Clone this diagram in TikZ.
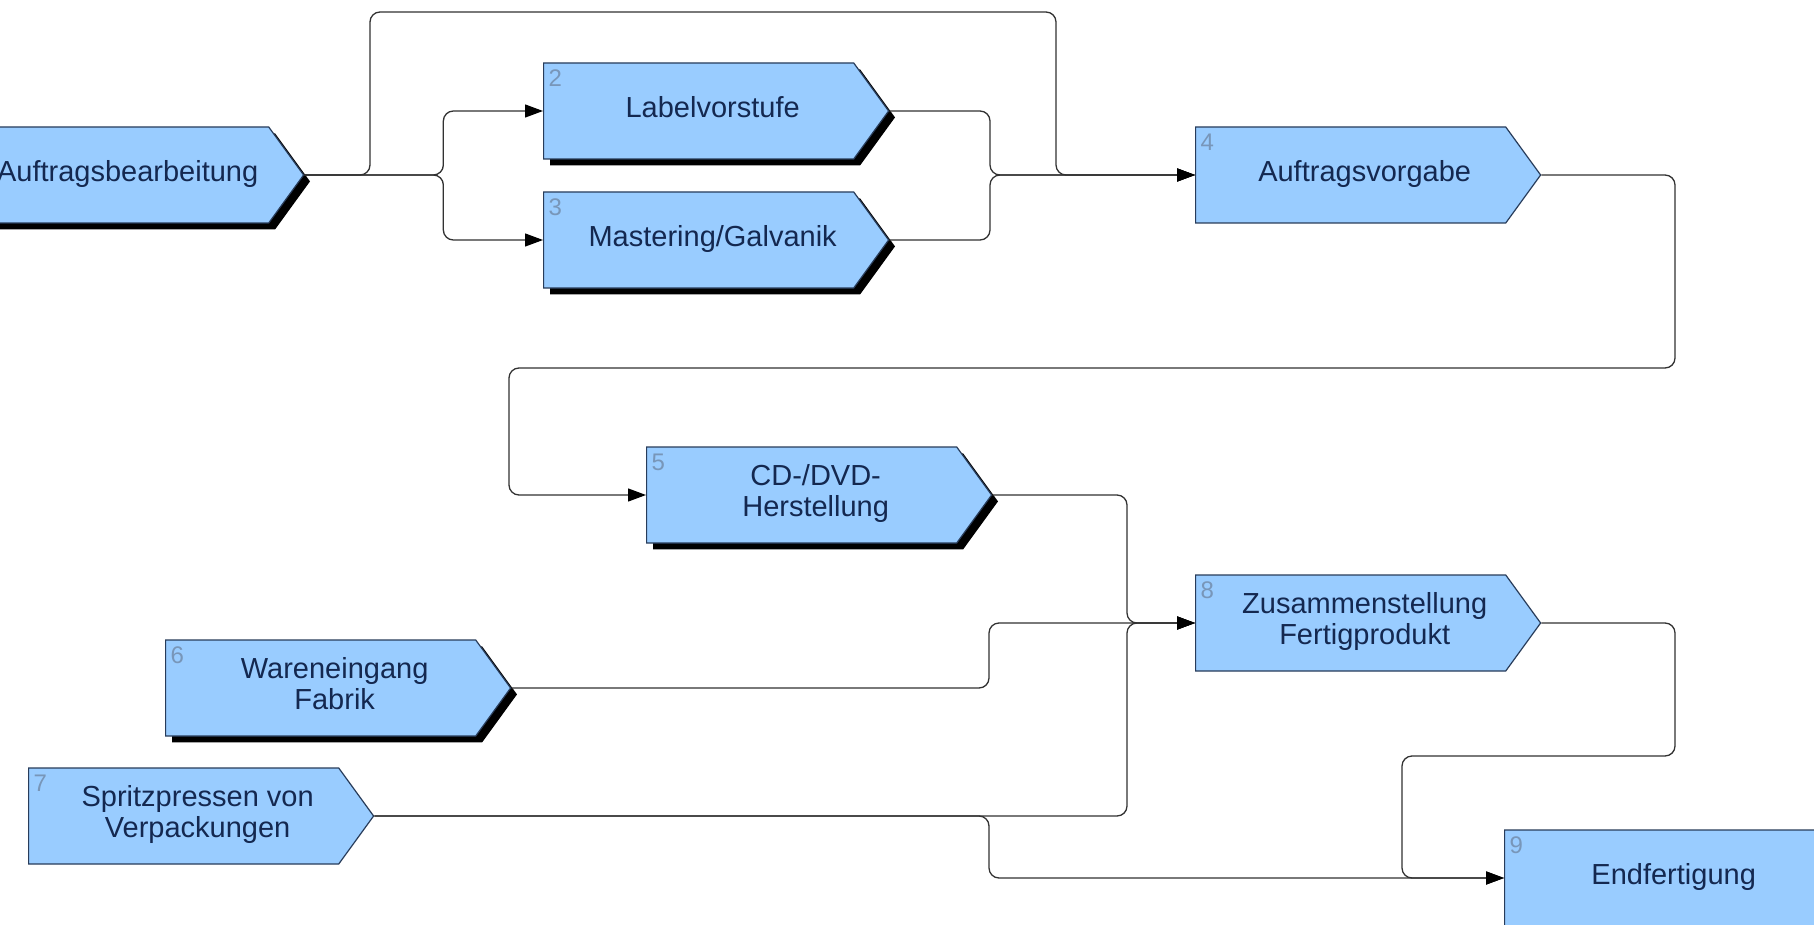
\documentclass[tikz,border=0pt]{standalone}
\usepackage{fontspec}
\setmainfont{Liberation Sans}
\usepackage{tikz}
\usetikzlibrary{arrows.meta,shadows,shapes.symbols}
\definecolor{blue1}{RGB}{153,204,255}
\definecolor{border1}{RGB}{40,60,90}
\definecolor{text1}{RGB}{20,40,80}
\definecolor{num1}{RGB}{120,150,185}
\definecolor{wire1}{RGB}{50,50,50}
% text centred over the whole arrow shape, tip included
\newcommand{\proctext}[1]{\begin{tabular}{@{\hspace{14pt}}c@{}}#1\end{tabular}}

\begin{document}
\begin{tikzpicture}[x=0.5pt,y=-0.5pt,>={Triangle[length=9pt,width=6.5pt,color=black]},
                    line width=0.65pt]
        \tikzstyle{procbox}=[signal,signal to=east,signal from=nowhere,signal pointer angle=108,
                             minimum width=172.5pt,minimum height=48pt,inner sep=0pt,anchor=west,
                             fill=blue1,draw=border1,line width=0.6pt,text=text1,
                             font=\fontsize{14.5}{15.5}\selectfont]
        \tikzstyle{procshadow}=[procbox,drop shadow={shadow xshift=3.2pt,shadow yshift=-3.2pt,
                                opacity=1,fill=black}]
        \tikzstyle{num}=[anchor=north west,inner sep=0pt,text=num1,font=\fontsize{12}{13}\selectfont]
        \tikzstyle{wire}=[->,draw=wire1,rounded corners=5pt]

        \useasboundingbox[fill=white] (0,0) rectangle (1814,925);

        \node[procshadow]   (bearb)   at (-42, 175)     {\proctext{Auftragsbearbeitung}};
        \node[procshadow]   (label)   at (543, 111)     {\proctext{Labelvorstufe}};
        \node[procshadow]   (master)  at (543, 240)     {\proctext{Mastering/Galvanik}};
        \node[procbox]      (vorgabe) at (1195, 175)    {\proctext{Auftragsvorgabe}};
        \node[procshadow]   (herst)   at (646, 495)     {\proctext{CD-/DVD-\\Herstellung}};
        \node[procshadow]   (waren)   at (165, 688)     {\proctext{Wareneingang\\Fabrik}};
        \node[procbox]      (spritz)  at (28, 816)      {\proctext{Spritzpressen von\\Verpackungen}};
        \node[procbox]      (zusam)   at (1195, 623)    {\proctext{Zusammenstellung\\Fertigprodukt}};
        \node[procbox]      (endf)    at (1504, 878)    {\proctext{Endfertigung}};

        % step numbers
        \foreach \n/\k in {label/2,master/3,vorgabe/4,herst/5,waren/6,spritz/7,zusam/8,endf/9}
            \path (\n.west |- \n.north) ++(5,7) node[num] (k\k) {\k};

        \draw[wire] (bearb.east) -- ++(139,0) |- (label.west);
        \draw[wire] (bearb.east) -- ++(139,0) |- (master.west);
        \draw[wire] (bearb.east) -| (370,12) -| (1056,175) -- (vorgabe.west);
        \draw[wire] (label.east) -| (990,175) -- (vorgabe.west);
        \draw[wire] (master.east) -| (990,175) -- (vorgabe.west);
        \draw[wire] (vorgabe.east) -| (1675,368) -| (509,495) -- (herst.west);
        \draw[wire] (herst.east) -| (1127,623) -- (zusam.west);
        \draw[wire] (waren.east) -| (989,623) -- (zusam.west);
        \draw[wire] (spritz.east) -| (1127,623) -- (zusam.west);
        \draw[wire] (spritz.east) -| (989,878) -- (endf.west);
        \draw[wire] (zusam.east) -| (1675,756) -| (1402,878) -- (endf.west);
    \end{tikzpicture}
\end{document}
